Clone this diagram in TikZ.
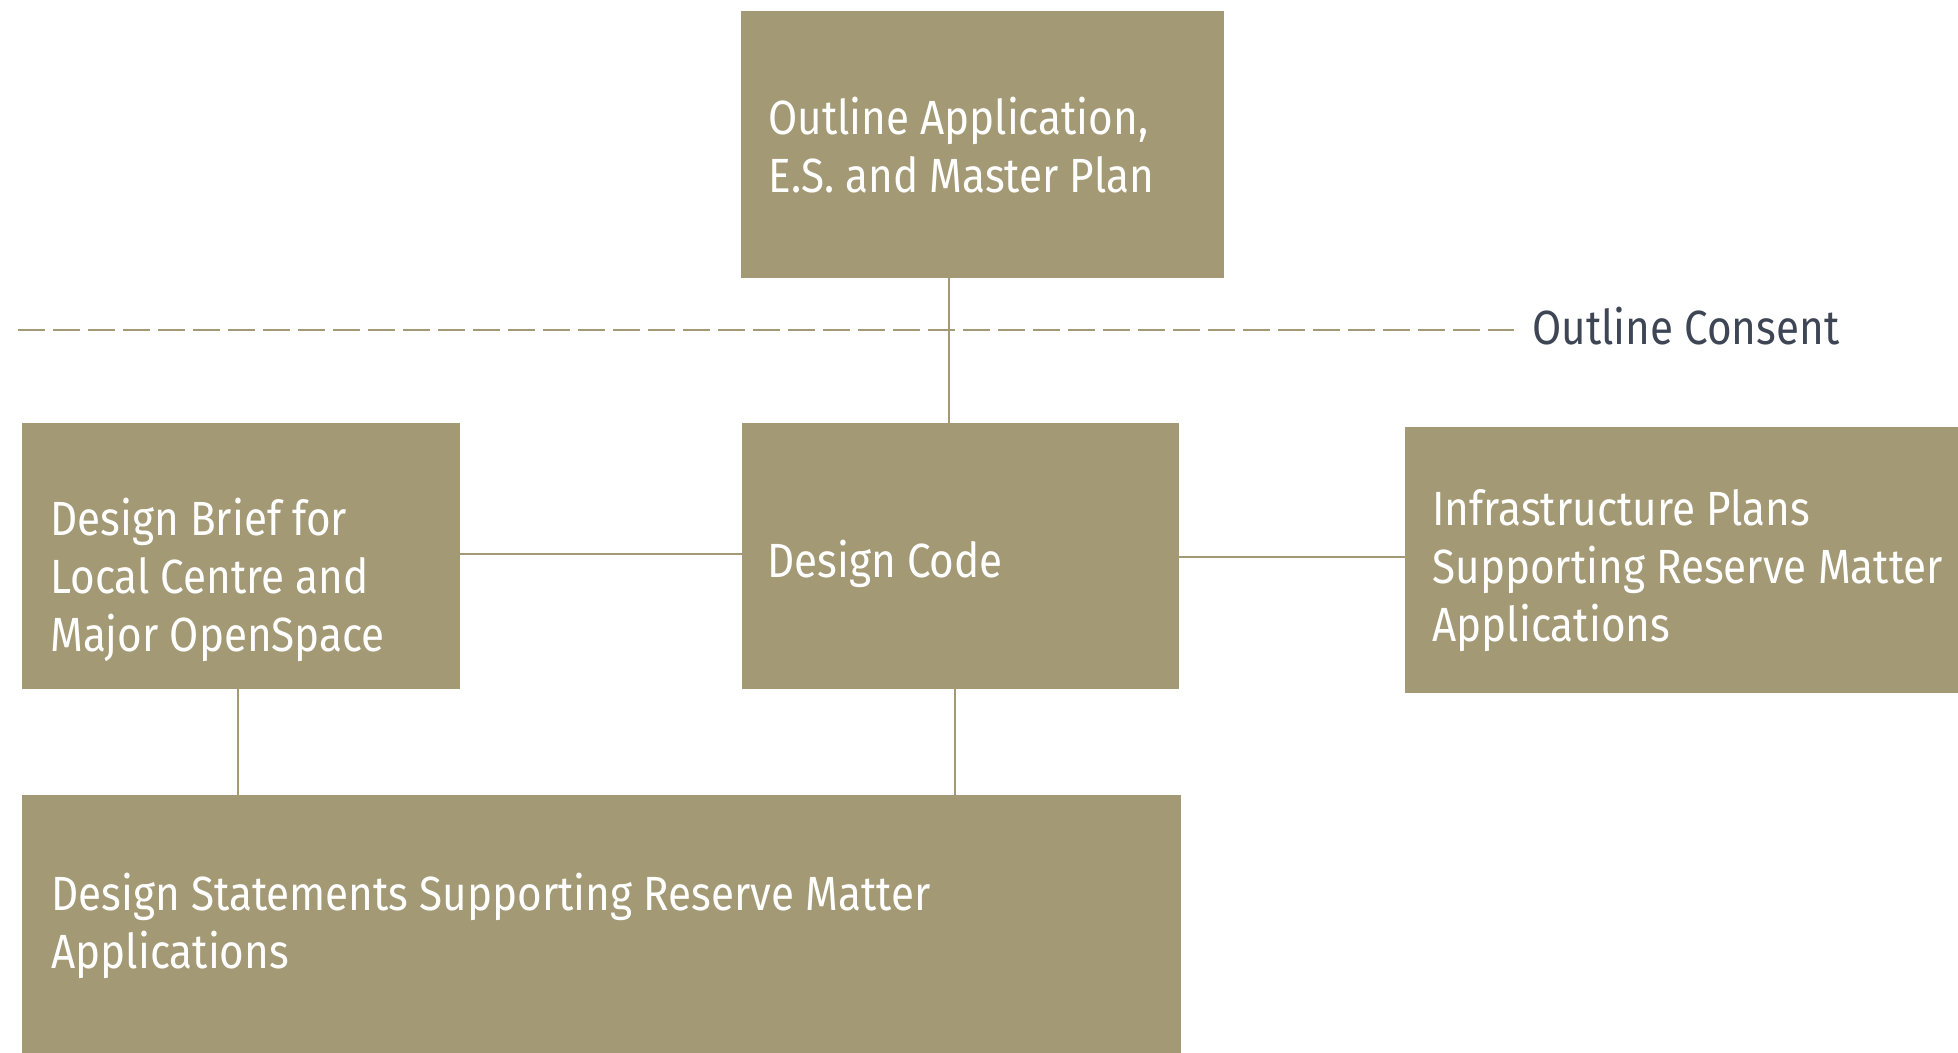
\documentclass[tikz,border=0pt]{standalone}
\usepackage{fontspec}
\setmainfont{Fira Sans}[FakeStretch=0.88]
\definecolor{khaki}{HTML}{A39975}
\definecolor{slate}{HTML}{3E4655}
\begin{document}
\begin{tikzpicture}[x=0.5pt,y=-0.5pt,
  box/.style={rectangle, fill=khaki, draw=none, inner sep=0pt, outer sep=0pt},
  lbl/.style={text=white, font=\fontsize{24}{29}\selectfont, anchor=base west, inner sep=0pt},
  link/.style={draw=khaki, line width=1.4pt},
  consent/.style={draw=khaki, line width=1.4pt, dash pattern=on 13.33pt off 4.17pt}]
\useasboundingbox (0,0) rectangle (1958,1053);
% boxes
\node[box, minimum width=241.5pt, minimum height=133.5pt] (top) at (982.5,144.5) {};
\node[box, minimum width=219pt, minimum height=133pt] (brief) at (241,556) {};
\node[box, minimum width=218.5pt, minimum height=133pt] (code) at (960.5,556) {};
\node[box, minimum width=276.5pt, minimum height=133pt] (infra) at (1681.5,560) {};
\node[box, minimum width=579.5pt, minimum height=129pt] (stmt) at (601.5,924) {};
% helper coordinates
\coordinate (vx1) at (949,0);
\coordinate (vx2) at (238,0);
\coordinate (vx3) at (955,0);
\coordinate (hy1) at (0,554);
\coordinate (hy2) at (0,557);
\coordinate (dl) at (18,330);
\coordinate (dr) at (1514,330);
% dashed consent line
\draw[consent] (dl) -- (dr);
% connectors
\draw[link] (top.south -| vx1) -- (code.north -| vx1);
\draw[link] (brief.east |- hy1) -- (code.west |- hy1);
\draw[link] (code.east |- hy2) -- (infra.west |- hy2);
\draw[link] (brief.south -| vx2) -- (stmt.north -| vx2);
\draw[link] (code.south -| vx3) -- (stmt.north -| vx3);
% texts
\node[lbl] (t1a) at (768,135) {Outline Application,};
\node[lbl] (t1b) at (768,193) {E.S. and Master Plan};
\node[lbl] (t2a) at (50,535) {Design Brief for};
\node[lbl] (t2b) at (50,593) {Local Centre and};
\node[lbl] (t2c) at (50,651) {Major OpenSpace};
\node[lbl] (t3a) at (767,577) {Design Code};
\node[lbl] (t4a) at (1432,525) {Infrastructure Plans};
\node[lbl] (t4b) at (1432,583) {Supporting Reserve Matter};
\node[lbl] (t4c) at (1432,641) {Applications};
\node[lbl] (t5a) at (51,910) {Design Statements Supporting Reserve Matter};
\node[lbl] (t5b) at (51,968) {Applications};
\node[lbl, text=slate] (oc) at (1532,345) {Outline Consent};
\end{tikzpicture}
\end{document}
